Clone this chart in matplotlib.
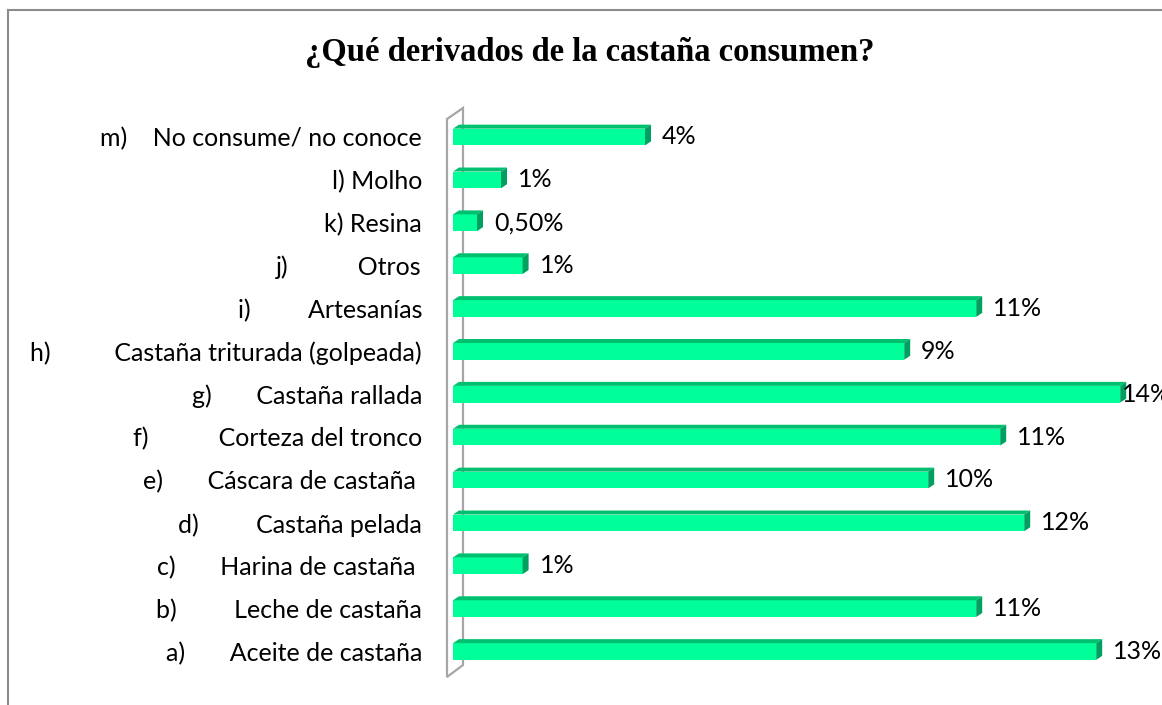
import matplotlib
matplotlib.use("Agg")
import matplotlib.pyplot as plt
from matplotlib.patches import Polygon
from matplotlib.lines import Line2D
import numpy as np

# survey answers, bottom (a) to top (m)
prefixes = ["a)", "b)", "c)", "d)", "e)", "f)", "g)", "h)", "i)", "j)", "k)", "l)", "m)"]
names = ["Aceite de castaña", "Leche de castaña", "Harina de castaña ",
         "Castaña pelada", "Cáscara de castaña ", "Corteza del tronco",
         "Castaña rallada", "Castaña triturada (golpeada)", "Artesanías",
         "Otros", "Resina", "Molho", "No consume/ no conoce"]
gaps = [7, 9, 7, 9, 7, 11, 7, 10, 9, 11, 1, 1, 4]
values = [13.4, 10.9, 1.45, 11.9, 9.9, 11.4, 13.9, 9.4, 10.9, 1.45, 0.5, 1.0, 4.0]

labels = [p + " " * g + n for p, g, n in zip(prefixes, gaps, names)]


def pct(v):
    if v < 1:
        return f"{v:.2f}%".replace(".", ",")
    return f"{v:.0f}%"


W, H = 1162, 705
fig = plt.figure(figsize=(W / 100, H / 100), dpi=100)

x0 = 453            # pixel where the value axis starts
px_x = 48.0         # pixels per percent
px_y = 42.875       # pixels per category
xmax = (W - x0) / px_x
ylo, yhi = -0.7, 12.7
top_px = 137 - 0.7 * px_y
ax_h = (yhi - ylo) * px_y
ax = fig.add_axes([x0 / W, 1 - (top_px + ax_h) / H, (W - x0) / W, ax_h / H])
ax.set_xlim(0, xmax)
ax.set_ylim(ylo, yhi)

front = "#00FF99"
top_c = "#00C070"
side_c = "#00A060"
bh = 0.39
dx = 6 / px_x
dy = 4 / px_y
fs = 18

y = np.arange(len(values))
ax.barh(y, values, height=bh, color=front, zorder=3)

for yi, v in zip(y, values):
    t = yi + bh / 2
    b = yi - bh / 2
    ax.add_patch(Polygon([(0, t), (v, t), (v + dx, t + dy), (dx, t + dy)],
                         closed=True, facecolor=top_c, edgecolor="none", zorder=3))
    ax.add_patch(Polygon([(v, b), (v, t), (v + dx, t + dy), (v + dx, b + dy)],
                         closed=True, facecolor=side_c, edgecolor="none", zorder=3))
    lx = min(v + dx + 11 / px_x, (1122 - x0) / px_x)
    ax.text(lx, yi, pct(v), ha="left", va="center", fontsize=fs,
            family="Lato", color="#000000", clip_on=False)

# back wall of the 3D chart
def to_data(px, py):
    return ((px - x0) / px_x, 12 - (py - 137) / px_y)

wall = [to_data(447, 677), to_data(447, 119), to_data(463, 108), to_data(463, 665)]
ax.add_patch(Polygon(wall, closed=True, facecolor="none", edgecolor="#A6A6A6",
                     linewidth=1.6, zorder=1, clip_on=False))

ax.set_yticks(y, labels)
ax.tick_params(axis="y", length=0, pad=31 * 0.72, labelsize=fs)
for lab in ax.get_yticklabels():
    lab.set_family("Lato")
ax.set_xticks([])
for s in ax.spines.values():
    s.set_visible(False)

fig.text(590 / W, 1 - 52 / H, "¿Qué derivados de la castaña consumen?",
         ha="center", va="center", fontsize=23.5, fontweight="bold",
         family="Liberation Serif")

# chart frame
fx, fy = 8 / W, 1 - 10 / H
fig.add_artist(Line2D([fx, fx], [0, fy], color="#8C8C8C", lw=1.5))
fig.add_artist(Line2D([fx, 1], [fy, fy], color="#8C8C8C", lw=1.5))

fig.savefig("out.png", dpi=100)
